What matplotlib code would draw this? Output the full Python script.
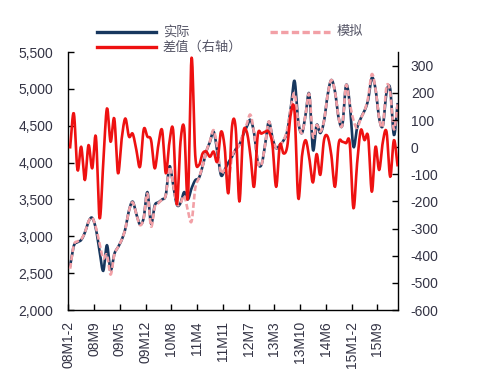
import numpy as np
import matplotlib
matplotlib.use("Agg")
import matplotlib.pyplot as plt
from matplotlib.lines import Line2D

plt.rcParams['font.family'] = ['Liberation Sans', 'Noto Sans CJK SC', 'DejaVu Sans']

# ---- data ----
tick_labels = ['08M1-2', '08M9', '09M5', '09M12', '10M8', '11M4', '11M11',
               '12M7', '13M3', '13M10', '14M6', '15M1-2', '15M9']

actual = [2600, 2870, 2920, 2950, 3050, 3200, 3250, 3100, 2800, 2530,
          2880, 2540, 2760, 2850, 2950, 3100, 3350, 3470, 3300, 3160,
          3250, 3600, 3170, 3420, 3460, 3500, 3560, 3950, 3700, 3430,
          3450, 3600, 3500, 3650, 3760, 3790, 3950, 4150, 4280, 4420,
          4150, 3830, 3900, 4000, 4080, 4180, 4240, 4375, 4480, 4580,
          4400, 4010, 3970, 4240, 4555, 4330, 4195, 4240, 4300, 4420,
          4750, 5110, 4560, 4400, 4650, 4930, 4170, 4510, 4400, 4560,
          4920, 5120, 4960, 4600, 4510, 5050, 4800, 4215, 4470, 4600,
          4700, 4850, 5150, 5000, 4600, 4500, 4950, 5000, 4374, 4790]

simulated = [2560, 2880, 2930, 2960, 3050, 3200, 3250, 3120, 2900, 2700,
             2750, 2480, 2750, 2850, 2950, 3100, 3350, 3460, 3300, 3150,
             3250, 3580, 3130, 3400, 3450, 3500, 3560, 3940, 3700, 3440,
             3450, 3550, 3350, 3200, 3650, 3790, 3950, 4150, 4290, 4440,
             4200, 3860, 3900, 3750, 4080, 4180, 4240, 4400, 4520, 4650,
             4400, 4010, 3970, 4240, 4560, 4330, 4200, 4240, 4300, 4450,
             4750, 4940, 4560, 4400, 4650, 4930, 4350, 4510, 4420, 4560,
             4920, 5120, 4960, 4600, 4510, 5050, 4800, 4578, 4470, 4600,
             4700, 4880, 5200, 5000, 4600, 4500, 5030, 4950, 4450, 4790]

diff = [0, 125, -84, 2, -121, 8, -78, 39, -262, -60,
        143, 20, 106, -96, 30, 106, 39, 50, -10, -72,
        66, 39, 26, -78, 10, 63, -96, 20, 63, -210,
        20, 70, -190, 330, -29, -66, -23, -16, -35, -16,
        -53, 57, 0, -170, 76, 70, -200, 45, 57, -29,
        -146, 45, 50, 57, 57, 8, -146, 8, -23, 2,
        125, 131, -188, -35, 26, -40, -130, -25, -102, 26,
        39, -30, -146, 14, 20, 15, 15, -225, -60, 63,
        26, 39, -164, 2, -84, 20, 57, -109, 26, -66]

left_ticks = [2000, 2500, 3000, 3500, 4000, 4500, 5000, 5500]
right_ticks = [-600, -500, -400, -300, -200, -100, 0, 100, 200, 300]

# ---- styles ----
navy = '#17375e'
pink = '#f2a0a6'
red = '#ee1111'
txt = '#333344'


def smooth(xs, ys, n=8):
    """Catmull-Rom rendering of a line through the data points (like a
    spreadsheet 'smoothed line')."""
    xs = np.asarray(xs, float)
    ys = np.asarray(ys, float)
    px = np.concatenate([[2 * xs[0] - xs[1]], xs, [2 * xs[-1] - xs[-2]]])
    py = np.concatenate([[2 * ys[0] - ys[1]], ys, [2 * ys[-1] - ys[-2]]])
    t = np.linspace(0, 1, n, endpoint=False)
    ox, oy = [], []
    for i in range(1, len(px) - 2):
        for arr, out in ((px, ox), (py, oy)):
            p0, p1, p2, p3 = arr[i - 1], arr[i], arr[i + 1], arr[i + 2]
            out.extend(0.5 * ((2 * p1) + (-p0 + p2) * t
                              + (2 * p0 - 5 * p1 + 4 * p2 - p3) * t ** 2
                              + (-p0 + 3 * p1 - 3 * p2 + p3) * t ** 3))
    ox.append(xs[-1])
    oy.append(ys[-1])
    return np.array(ox), np.array(oy)


fig = plt.figure(figsize=(4.91, 3.78), dpi=100)
fig.patch.set_facecolor('white')
ax = fig.add_axes([68.3 / 491, 1 - 310 / 378, 330 / 491, 258 / 378])
ax2 = ax.twinx()

x = np.arange(len(actual))
ax.plot(*smooth(x, actual), color=navy, lw=1.9, solid_joinstyle='round', zorder=2)
ax.plot(*smooth(x, simulated), color=pink, lw=1.9, ls=(0, (2.2, 1.0)), zorder=3)
ax2.plot(*smooth(x, diff), color=red, lw=1.9, solid_joinstyle='round', zorder=4)

ax.set_xlim(-0.5, 89.2)
ax.set_ylim(2000, 5500)
ax2.set_ylim(-600, 351)

ax.set_yticks(left_ticks)
ax.set_yticklabels([f'{v:,}' for v in left_ticks])
ax2.set_yticks(right_ticks)
ax2.set_yticklabels([str(v) for v in right_ticks])
ax.set_xticks(np.arange(len(tick_labels)) * 7 - 0.5)
ax.set_xticklabels(tick_labels, rotation=90)

for a in (ax, ax2):
    a.spines['top'].set_visible(False)
    for s in a.spines.values():
        s.set_color('black')
        s.set_linewidth(1.0)
ax.spines['right'].set_visible(False)
ax2.spines['left'].set_visible(False)
ax2.spines['bottom'].set_visible(False)

ax.tick_params(axis='y', direction='in', length=4, width=1, pad=11,
               labelsize=10, labelcolor=txt)
ax.tick_params(axis='x', direction='in', length=4, width=1, pad=8,
               labelsize=10, labelcolor=txt)
ax2.tick_params(axis='y', direction='in', length=4, width=1, pad=9,
                labelsize=10, labelcolor=txt)

# ---- legend (manual) ----
def fx(px):
    return px / 491

def fy(py):
    return 1 - py / 378

leg_txt = '#555566'
fig.add_artist(Line2D([fx(97), fx(156)], [fy(32), fy(32)], color=navy, lw=2.4,
                      transform=fig.transFigure))
fig.text(fx(163), fy(32), '实际', fontsize=9.5, color=leg_txt, va='center', ha='left')
fig.add_artist(Line2D([fx(270), fx(330)], [fy(32), fy(32)], color=pink, lw=2.4,
                      ls=(0, (2.2, 1.0)), transform=fig.transFigure))
fig.text(fx(337), fy(32), '模拟', fontsize=9.5, color=leg_txt, va='center', ha='left')
fig.add_artist(Line2D([fx(97), fx(156)], [fy(47), fy(47)], color=red, lw=2.4,
                      transform=fig.transFigure))
fig.text(fx(163), fy(47), '差值（右轴）', fontsize=9.5, color=leg_txt, va='center', ha='left')

fig.savefig('out.png', dpi=100, facecolor='white')
